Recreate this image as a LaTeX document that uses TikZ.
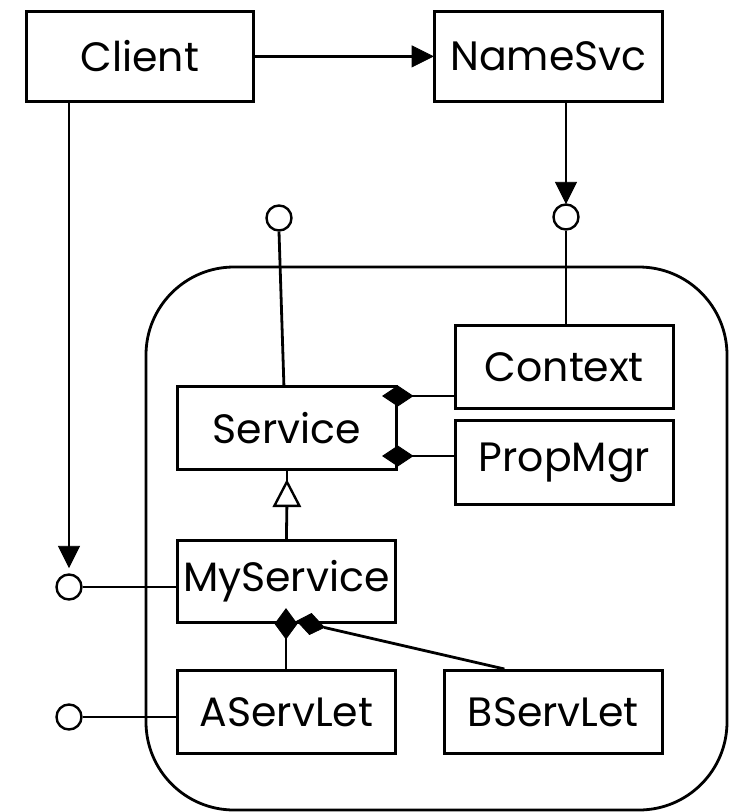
\documentclass[tikz,border=0pt]{standalone}
\usepackage{fontspec}
\setmainfont{Poppins}
\begin{document}
\begin{tikzpicture}[x=1pt,y=-1pt,line width=2.8pt,line join=miter,
  box/.style={draw,rectangle,anchor=north west,inner sep=0pt,
    font=\fontsize{41}{44}\selectfont},
  port/.style={draw,circle,minimum size=25pt,inner sep=0pt,fill=white,line width=2.4pt},
  head/.style={fill=black,line width=0.8pt,draw=black}]
\useasboundingbox (0,0) rectangle (731,812);
% container
\draw[rounded corners=88pt] (146,267) rectangle (727,810);
% boxes
\node[box,minimum width=227pt,minimum height=90pt] (client) at (25,10) {Client};
\node[box,minimum width=228pt,minimum height=90pt] (namesvc) at (433,10) {NameSvc};
\node[box,minimum width=218pt,minimum height=83pt] (context) at (454,324) {Context};
\node[box,minimum width=218pt,minimum height=84pt] (propmgr) at (454,419) {PropMgr};
\node[box,minimum width=219pt,minimum height=83pt] (service) at (176,385) {Service};
\node[box,minimum width=218pt,minimum height=82pt] (myservice) at (176,539) {MyService};
\node[box,minimum width=218pt,minimum height=83pt] (aservlet) at (176,669) {AServLet};
\node[box,minimum width=218pt,minimum height=83pt] (bservlet) at (443,669) {BServLet};
% ports
\node[port] (c1) at (279,218) {};
\node[port] (c2) at (566,217) {};
\node[port] (c3) at (69,587) {};
\node[port] (c4) at (69,717) {};
% Client -> NameSvc
\draw (client) -- ([xshift=-20pt]namesvc.west);
\draw[head] (namesvc.west) -- ++(-21,-10.5) -- ++(0,21) -- cycle;
% Client -> port c3
\coordinate (t3) at ([yshift=6pt]c3.north);
\draw (client.south -| c3) -- ([yshift=20pt]t3);
\draw[head] (t3) -- ++(-10.5,-21) -- ++(21,0) -- cycle;
% NameSvc -> port c2
\draw (namesvc.south -| c2) -- ([yshift=20pt]c2.north);
\draw[head] (c2.north) -- ++(-10.5,-21) -- ++(21,0) -- cycle;
% lollipops
\draw (c2.south) -- (c2.south |- context.north);
\draw (c1.south) -- ([xshift=-3pt]service.north);
\draw (c3.east) -- (c3 -| myservice.west);
\draw (c4.east) -- (c4 -| aservlet.west);
% compositions Service <>- Context / PropMgr
\coordinate (d1) at (service.east |- 0,396);
\coordinate (d2) at (service.east |- 0,456);
\draw (context.west |- d1) -- (d1);
\draw (propmgr.west |- d2) -- (d2);
\draw[head] (d1) +(-15,0) -- +(0,-10) -- +(15,0) -- +(0,10) -- cycle;
\draw[head] (d2) +(-15,0) -- +(0,-10) -- +(15,0) -- +(0,10) -- cycle;
% generalization MyService -> Service
\draw (service.south) -- ++(0,11) coordinate (gtip);
\draw (myservice.north) -- ([yshift=-24pt]gtip);
\draw[fill=white,line width=2.4pt] (gtip) -- ++(-12.5,24) -- ++(25,0) -- cycle;
% compositions MyService <>- AServLet / BServLet
\coordinate (d3) at (myservice.south -| 286,0);
\draw (aservlet.north -| d3) -- (d3);
\draw[head] (d3) +(0,-15) -- +(11,0) -- +(0,15) -- +(-11,0) -- cycle;
\coordinate (b4) at ([xshift=-49pt]bservlet.north);
\draw (b4) -- (324,627.4);
\draw[head] (297,621) -- (311.5,613.5) -- (324.3,627.4) -- (309.5,634.5) -- cycle;
\end{tikzpicture}
\end{document}
